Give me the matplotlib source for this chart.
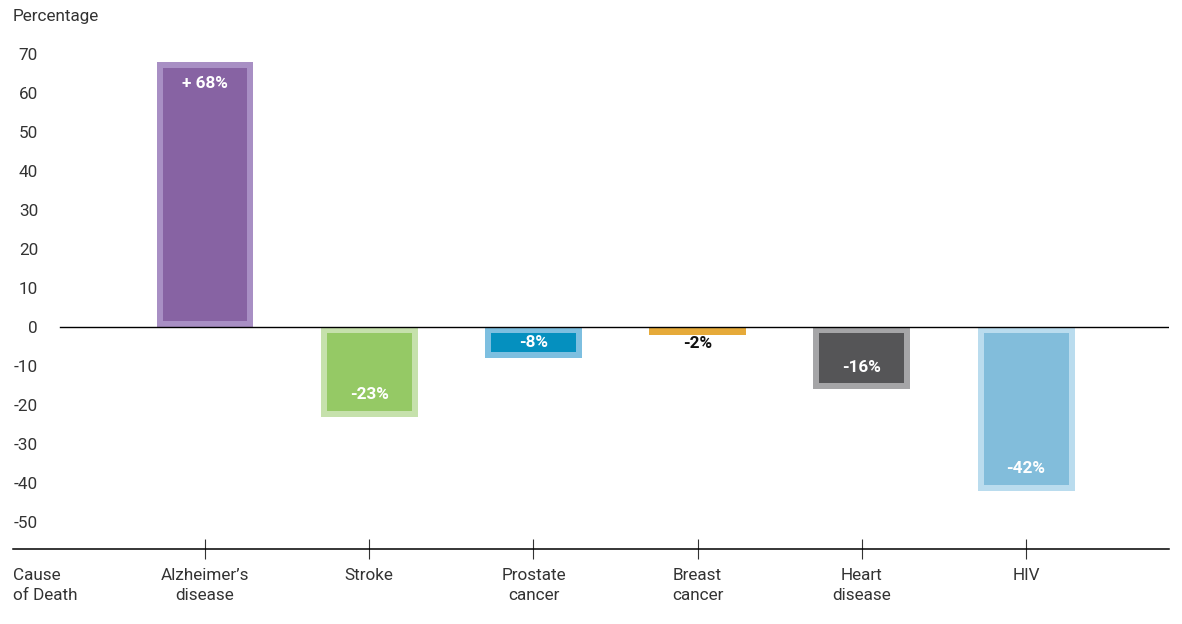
import matplotlib.pyplot as plt

plt.rcParams['font.family'] = ['Roboto', 'DejaVu Sans']

causes = ["Alzheimer\u2019s\ndisease", "Stroke", "Prostate\ncancer", "Breast\ncancer", "Heart\ndisease", "HIV"]
change = [68, -23, -8, -2, -16, -42]
labels = ["+ 68%", "-23%", "-8%", "-2%", "-16%", "-42%"]
inner_colors = ["#8763a3", "#95c965", "#0590bf", "#e6aa3a", "#555557", "#82bddb"]
outer_colors = ["#a88fc4", "#c6e1ac", "#7dbfe0", "#e6aa3a", "#a5a5a7", "#badcee"]
yticks = [70, 60, 50, 40, 30, 20, 10, 0, -10, -20, -30, -40, -50]

W, H = 1182, 624
fig = plt.figure(figsize=(W / 100, H / 100), dpi=100)
ax = fig.add_axes([13 / W, 75 / H, 1156 / W, 509 / H])

x = list(range(len(change)))
outer_w = 0.59
inset_x = 6 / 164.2
inset_y = 1.55
fs = 12.3

for i, v in enumerate(change):
    ax.bar(i, v, width=outer_w, color=outer_colors[i], zorder=2)
    if abs(v) > 5:
        s = 1 if v > 0 else -1
        ax.bar(i, v - s * 2 * inset_y, bottom=s * inset_y, width=outer_w - 2 * inset_x,
               color=inner_colors[i], zorder=3)
    if abs(v) > 10:
        ty = v - (1 if v > 0 else -1) * 5.6
        col = "white"
    elif abs(v) > 5:
        ty = v / 2
        col = "white"
    else:
        ty = v - 2.2
        col = "#111111"
    ax.text(i, ty, labels[i], ha="center", va="center", color=col,
            fontsize=fs, fontweight="bold", zorder=4)

ax.axhline(0, xmin=(60 - 13) / 1156, xmax=1, color="black", lw=1, zorder=5)

ax.set_xlim(-1.169, 5.87)
ax.set_ylim(-56.92, 73.59)

for sp in ["top", "right", "left"]:
    ax.spines[sp].set_visible(False)
ax.spines["bottom"].set_color("black")
ax.spines["bottom"].set_linewidth(1.1)

ax.set_yticks(yticks)
ax.set_yticklabels([str(t) for t in yticks])
ax.tick_params(axis="y", length=0, pad=-18, labelsize=fs, labelcolor="#333333")
for lab in ax.get_yticklabels():
    lab.set_horizontalalignment("right")

ax.set_xticks(x)
ax.set_xticklabels(causes, linespacing=1.4)
ax.tick_params(axis="x", direction="inout", length=14, width=0.8, color="#333333",
               pad=7, labelsize=fs, labelcolor="#333333")

ax.text(0, -0.038, "Cause\nof Death", transform=ax.transAxes, ha="left", va="top",
        fontsize=fs, color="#333333", linespacing=1.4)
fig.text(13 / W, 1 - 17 / H, "Percentage", ha="left", va="center", fontsize=fs, color="#333333")

fig.savefig("out.png", dpi=100)
